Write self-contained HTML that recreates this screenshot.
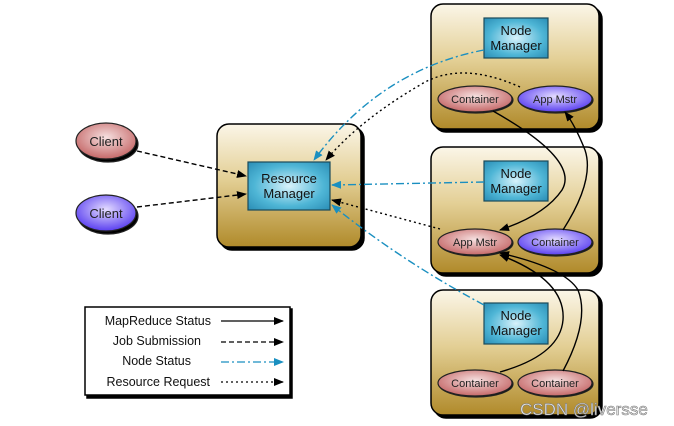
<!DOCTYPE html>
<html><head><meta charset="utf-8"><style>
html,body{margin:0;padding:0;background:#fff;width:674px;height:426px;overflow:hidden}
svg{display:block}
text{font-family:"Liberation Sans",sans-serif}
</style></head><body>
<svg width="674" height="426" viewBox="0 0 674 426" xmlns="http://www.w3.org/2000/svg">
<defs>
<linearGradient id="pan" x1="0" y1="0" x2="0" y2="1">
<stop offset="0" stop-color="#fbf6e8"/><stop offset="0.45" stop-color="#e3cf95"/><stop offset="1" stop-color="#b08a2a"/></linearGradient>
<radialGradient id="box" cx="0.5" cy="0.5" r="0.7">
<stop offset="0" stop-color="#d8f2fb"/><stop offset="0.6" stop-color="#4fb6d6"/><stop offset="1" stop-color="#2a8db5"/></radialGradient>
<radialGradient id="red" cx="0.5" cy="0.4" r="0.6">
<stop offset="0" stop-color="#f6e0e0"/><stop offset="1" stop-color="#c56868"/></radialGradient>
<radialGradient id="blu" cx="0.5" cy="0.4" r="0.6">
<stop offset="0" stop-color="#e4dcff"/><stop offset="1" stop-color="#5a3ff0"/></radialGradient>
<marker id="ak" markerWidth="10" markerHeight="8" refX="9" refY="4" orient="auto" markerUnits="userSpaceOnUse"><path d="M0,0 L10,4 L0,8 z" fill="#000"/></marker>
<marker id="ab" markerWidth="10" markerHeight="8" refX="9" refY="4" orient="auto" markerUnits="userSpaceOnUse"><path d="M0,0 L10,4 L0,8 z" fill="#1a8fc0"/></marker>
</defs>
<g stroke="#000" stroke-width="1.5">
<rect x="220" y="127" width="144" height="123" rx="12" fill="#000"/>
<rect x="217" y="124" width="144" height="123" rx="12" fill="url(#pan)"/>
<rect x="434" y="7" width="168" height="125" rx="12" fill="#000"/>
<rect x="431" y="4" width="168" height="125" rx="12" fill="url(#pan)"/>
<rect x="434" y="150" width="168" height="126" rx="12" fill="#000"/>
<rect x="431" y="147" width="168" height="126" rx="12" fill="url(#pan)"/>
<rect x="434" y="293" width="168" height="125" rx="12" fill="#000"/>
<rect x="431" y="290" width="168" height="125" rx="12" fill="url(#pan)"/>
<rect x="87" y="309" width="205" height="89" fill="#000"/>
<rect x="85" y="307" width="205" height="88" fill="#fff"/>
</g>
<g stroke="#1a4a5a" stroke-width="1.2" fill="url(#box)">
<rect x="248" y="162" width="82" height="48"/>
<rect x="484" y="18" width="64" height="40"/>
<rect x="484" y="161" width="64" height="40"/>
<rect x="484" y="303" width="64" height="41"/>
</g>
<g font-size="13" fill="#111" text-anchor="middle">
<text x="289" y="183">Resource</text><text x="289" y="198">Manager</text>
<text x="516" y="35">Node</text><text x="516" y="50">Manager</text>
<text x="516" y="178">Node</text><text x="516" y="193">Manager</text>
<text x="516" y="320">Node</text><text x="516" y="335">Manager</text>
</g>
<g stroke="#222" stroke-width="1.2">
<ellipse cx="108" cy="144" rx="30" ry="18" fill="#000"/>
<ellipse cx="106" cy="141" rx="30" ry="18" fill="url(#red)"/>
<ellipse cx="108" cy="216" rx="30" ry="18" fill="#000"/>
<ellipse cx="106" cy="213" rx="30" ry="18" fill="url(#blu)"/>
<ellipse cx="476" cy="100" rx="37" ry="13" fill="#000"/>
<ellipse cx="475" cy="99" rx="37" ry="13" fill="url(#red)"/>
<ellipse cx="556" cy="100" rx="37" ry="13" fill="#000"/>
<ellipse cx="555" cy="99" rx="37" ry="13" fill="url(#blu)"/>
<ellipse cx="476" cy="243" rx="37" ry="13" fill="#000"/>
<ellipse cx="475" cy="242" rx="37" ry="13" fill="url(#red)"/>
<ellipse cx="556" cy="243" rx="37" ry="13" fill="#000"/>
<ellipse cx="555" cy="242" rx="37" ry="13" fill="url(#blu)"/>
<ellipse cx="476" cy="384" rx="37" ry="13" fill="#000"/>
<ellipse cx="475" cy="383" rx="37" ry="13" fill="url(#red)"/>
<ellipse cx="556" cy="384" rx="37" ry="13" fill="#000"/>
<ellipse cx="555" cy="383" rx="37" ry="13" fill="url(#red)"/>
</g>
<g font-size="13" fill="#222" text-anchor="middle">
<text x="106" y="146">Client</text><text x="106" y="218">Client</text>
</g>
<g font-size="11" fill="#222" text-anchor="middle">
<text x="475" y="103">Container</text><text x="555" y="103">App Mstr</text>
<text x="475" y="246">App Mstr</text><text x="555" y="246">Container</text>
<text x="475" y="387">Container</text><text x="555" y="387">Container</text>
</g>
<g fill="none" stroke-width="1.4">
<path d="M137,151 L246,176" stroke="#000" stroke-dasharray="5,3" marker-end="url(#ak)"/>
<path d="M137,207 L246,194" stroke="#000" stroke-dasharray="5,3" marker-end="url(#ak)"/>
<path d="M484,50 Q380,70 314,160" stroke="#1a8fc0" stroke-dasharray="8,3,2,3" marker-end="url(#ab)"/>
<path d="M520,87 Q460,60 420,85 Q360,120 326,160" stroke="#000" stroke-dasharray="2,3" marker-end="url(#ak)"/>
<path d="M484,182 L332,185" stroke="#1a8fc0" stroke-dasharray="8,3,2,3" marker-end="url(#ab)"/>
<path d="M440,229 L332,200" stroke="#000" stroke-dasharray="2,3" marker-end="url(#ak)"/>
<path d="M484,305 Q400,260 332,205" stroke="#1a8fc0" stroke-dasharray="8,3,2,3" marker-end="url(#ab)"/>
<path d="M493,111 Q580,160 562,190 Q545,215 500,230" stroke="#000" marker-end="url(#ak)"/>
<path d="M563,230 Q595,180 585,150 Q575,125 565,112" stroke="#000" marker-end="url(#ak)"/>
<path d="M500,372 Q560,355 563,320 Q566,280 500,255" stroke="#000" marker-end="url(#ak)"/>
<path d="M563,371 Q590,320 578,290 Q565,268 500,253" stroke="#000" marker-end="url(#ak)"/>
</g>
<g font-size="12.5" fill="#111" text-anchor="end">
<text x="211" y="325">MapReduce Status</text>
<text x="201" y="345">Job Submission</text>
<text x="191" y="365">Node Status</text>
<text x="210" y="386">Resource Request</text>
</g>
<g fill="none" stroke-width="1.2">
<path d="M221,321 L283,321" stroke="#000" marker-end="url(#ak)"/>
<path d="M221,342 L283,342" stroke="#000" stroke-dasharray="5,3" marker-end="url(#ak)"/>
<path d="M221,362 L283,362" stroke="#1a8fc0" stroke-dasharray="8,3,2,3" marker-end="url(#ab)"/>
<path d="M221,382 L283,382" stroke="#000" stroke-dasharray="2,3" marker-end="url(#ak)"/>
</g>
<text x="520" y="415" font-size="17" fill="#f0f0f0" stroke="#777" stroke-width="0.6">CSDN @liversse</text>
</svg>
</body></html>
